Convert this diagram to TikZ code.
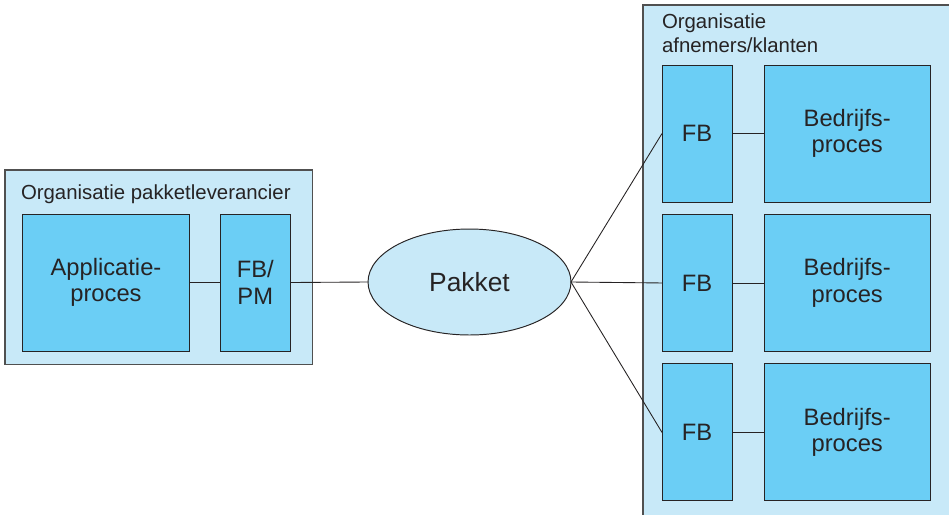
\documentclass[tikz,border=0pt]{standalone}
\usepackage{fontspec}
\setmainfont{Liberation Sans}
\usetikzlibrary{positioning,shapes.geometric}
\definecolor{paleblue}{HTML}{C8E9F8}
\definecolor{boxblue}{HTML}{6BCEF5}
\definecolor{framegray}{HTML}{505050}
\definecolor{inkgray}{HTML}{262324}

\begin{document}
\begin{tikzpicture}
[x=0.02cm,y=-0.02cm,node distance=0.25cm,outer sep=0pt,
org box/.style= {draw=framegray,line width=0.6pt,fill=paleblue,anchor=north west},
org label/.style= {inner sep=0pt,text=inkgray,font=\fontsize{11.6}{13.6}\selectfont},
proc/.style= {draw=inkgray,line width=0.55pt,fill=boxblue,minimum width=3.33cm,
  minimum height=2.74cm,align=center,text=inkgray,font=\fontsize{13.5}{15.2}\selectfont},
fb/.style= {proc,minimum width=1.4cm},
pakket/.style= {ellipse,draw=inkgray,line width=0.55pt,fill=paleblue,inner sep=0pt,
  minimum width=4.06cm,minimum height=2.12cm,text=inkgray,font=\fontsize{15}{18}\selectfont},
link/.style= {draw=inkgray,line width=0.5pt}]
\path [use as bounding box,clip] (0,0) rectangle (949,514);
% leverancier
\node [org box,minimum width=6.16cm,minimum height=3.9cm] (lev) at (5,170) {};
\node [org label,anchor=base west] (levtitle) at (21,199) {Organisatie pakketleverancier};
\node [proc] (app) at (106,282.5) {Applicatie-\\proces};
\node [fb,right=0.62cm of app] (fbpm) {FB/\\PM};
% pakket
\node [pakket] (pak) at (469.5,282) {Pakket};
% afnemers
\node [org box,minimum width=7cm,minimum height=10.5cm] (afn) at (643,5) {};
\node [org label,anchor=north west,align=left] (afntitle) at (662,14)
{Organisatie\\afnemers/klanten};
\node [fb] (fb1) at (697,133.5) {FB};
\node [fb,below=of fb1] (fb2) {FB};
\node [fb,below=of fb2] (fb3) {FB};
\node [proc,right=0.64cm of fb1] (bp1) {Bedrijfs-\\proces};
\node [proc,right=0.64cm of fb2] (bp2) {Bedrijfs-\\proces};
\node [proc,right=0.64cm of fb3] (bp3) {Bedrijfs-\\proces};
% verbindingen
\draw [link] (app) -- (fbpm);
\draw [link] (fbpm.east) -- (pak.west);
\draw [link] (pak.east) -- (fb1.west);
\draw [link] (pak.east) -- (fb2.west);
\draw [link] (pak.east) -- (fb3.west);
\draw [link] (fb1) -- (bp1);
\draw [link] (fb2) -- (bp2);
\draw [link] (fb3) -- (bp3);
\end{tikzpicture}
\end{document}
